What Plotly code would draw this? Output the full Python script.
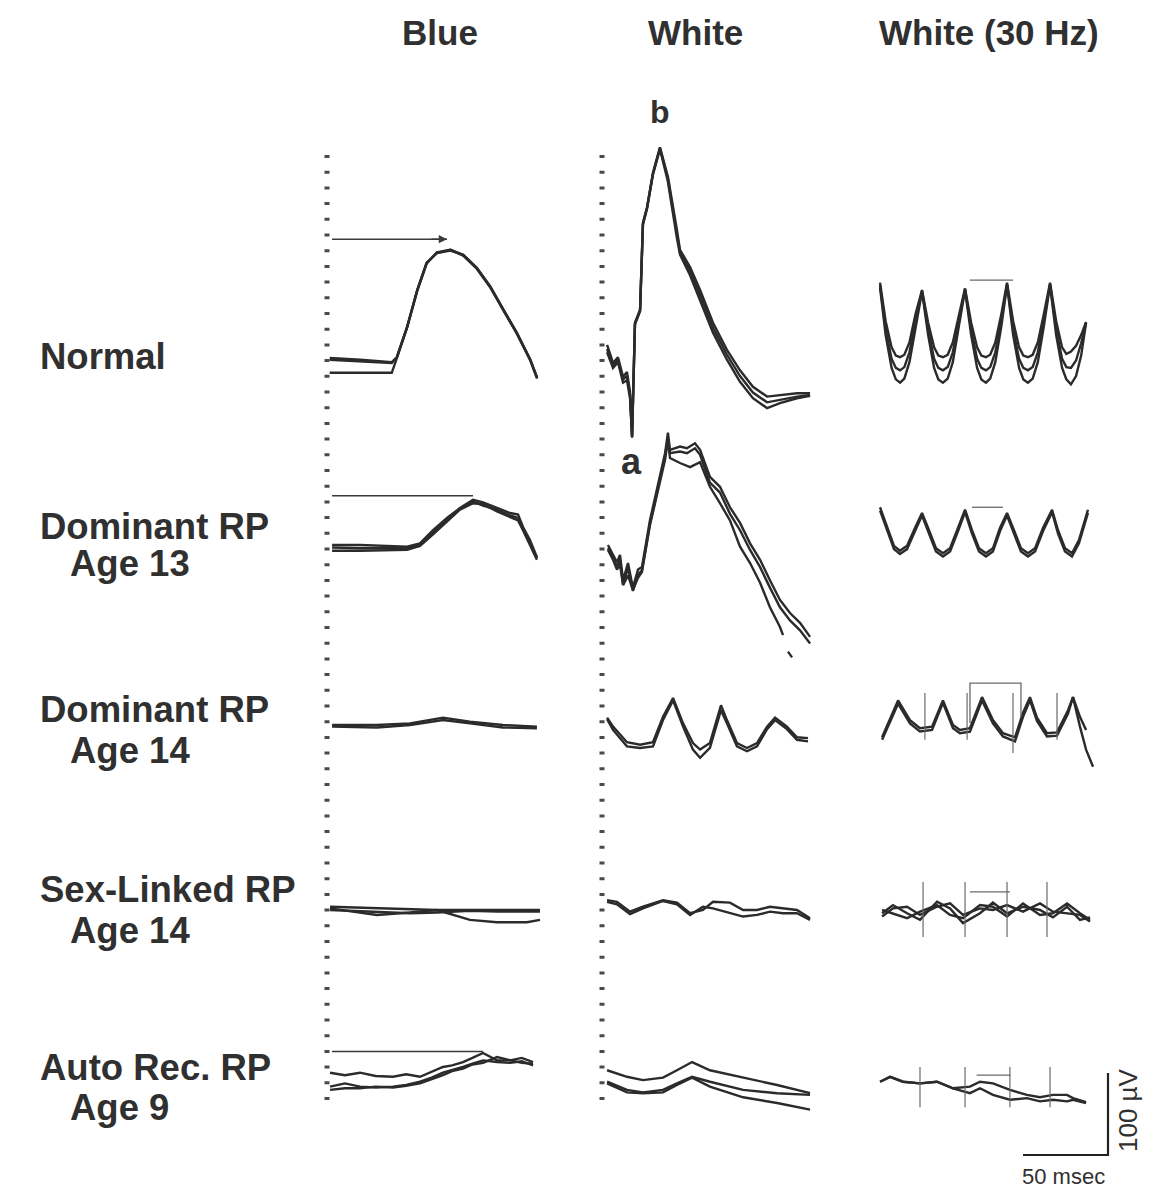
import plotly.graph_objects as go

# ---------------- figure geometry (layout constants, not data) ----------------
W, H = 1172, 1195
KX, KY = 1.7, 0.82            # pixels per msec, pixels per µV (from the scale bar)
COL_X0 = [328, 603, 878]      # pixel of t = 0 for each column
ROW_Y0 = [372, 545, 725, 910, 1085]  # pixel of 0 µV for each row

# ---------------- labels ----------------
COLUMN_TITLES = ["Blue", "White", "White (30 Hz)"]
ROW_TITLES = [["Normal"], ["Dominant RP", "Age 13"], ["Dominant RP", "Age 14"],
              ["Sex-Linked RP", "Age 14"], ["Auto Rec. RP", "Age 9"]]
SCALE_MS = 50
SCALE_UV = 100

# ---------------- data: time (msec) and amplitude (µV) ----------------
# Row 1  Normal
N_BLUE_T = [1, 19, 37.5, 40.5, 46.5, 52.5, 58, 64, 72, 79.5, 87.5, 95.5, 103, 111, 119, 123]
N_BLUE_1 = [17, 15, 12, 18, 55, 100, 133, 145, 149, 143, 127, 104, 76, 48, 15, -7]
N_BLUE_2 = [15, 13, 11, 18, 54, 99, 132, 146, 149, 142, 126, 103, 75, 47, 14, -8]
N_BLUE_3 = [-1, -1, -1, 17, 54, 100, 133, 145, 148, 143, 127, 104, 76, 48, 15, -7]
N_BLUE_PEAK_T = 70
N_BLUE_MARK_UV = 162

N_WHITE_T = [2.4, 5.9, 8.8, 11.8, 14.1, 15.9, 17.1, 18.8, 21.8, 23.5, 25.9, 29.4, 33.5, 38.2,
             43.5, 45.3, 51.2, 57.1, 64.7, 72.9, 80.6, 88.2, 96.5, 104.1, 114.1, 121.8]
N_WHITE_1 = [33, 11, 18, -6, 0, -24, -80, 60, 76, 182, 201, 243, 274, 238,
             173, 149, 128, 100, 60, 27, 2, -18, -30, -28, -26, -26]
N_WHITE_2 = [24, 5, 12, -13, -10, -32, -78, 58, 74, 180, 199, 241, 272, 232,
             163, 143, 118, 88, 48, 15, -12, -32, -44, -38, -32, -29]
N_WHITE_3 = [28, 8, 15, -9, -5, -28, -79, 59, 75, 181, 200, 242, 273, 235,
             168, 146, 123, 94, 54, 21, -5, -25, -37, -34, -30, -28]

N_FLICK_T = [1.2, 4.5, 8, 10.5, 13, 15.5, 18.5, 22, 25.9, 29.5, 33, 35.5, 38.2, 41, 44, 47.5, 51.2,
             54.8, 58.3, 60.8, 63.5, 66, 69, 72.5, 75.9, 79.5, 83, 85.5, 88.2, 91, 94, 97.5, 101.2,
             104.8, 108.3, 110.8, 113.5, 116.5, 119.5, 122.4]
N_FLICK_1 = [109, 62, 30, 20, 18, 21, 36, 70, 100, 60, 30, 20, 18, 21, 36, 70, 102,
             60, 30, 20, 18, 21, 36, 70, 109, 62, 30, 20, 18, 21, 36, 70, 109,
             62, 30, 22, 25, 32, 45, 61]
N_FLICK_2 = [103, 45, 5, -9, -13, -8, 12, 55, 98, 45, 5, -9, -13, -8, 12, 55, 100,
             45, 5, -9, -13, -8, 12, 55, 106, 45, 5, -9, -13, -8, 12, 55, 106,
             45, 5, -9, -15, -5, 20, 60]
N_FLICK_3 = [106, 52, 16, 5, 2, 6, 24, 62, 99, 52, 16, 5, 2, 6, 24, 62, 101,
             52, 16, 5, 2, 6, 24, 62, 107, 52, 16, 5, 2, 6, 24, 62, 107,
             52, 16, 6, 5, 14, 35, 60]
N_FLICK_BRACKET_T = [54, 79.5]
N_FLICK_BRACKET_UV = [112, 112]

# Row 2  Dominant RP, age 13
D13_BLUE_T = [2.4, 18.8, 46.5, 54.1, 61.8, 70, 77.6, 85.3, 91.2, 99.4, 107.1, 111.8, 114.7, 118.8, 122.9]
D13_BLUE_1 = [0, 0, -2, 2, 18, 33, 45, 55, 52, 45, 39, 37, 22, 6, -15]
D13_BLUE_2 = [-7, -7, -6, -1, 13, 29, 43, 51, 50, 41, 34, 30, 18, 0, -18]
D13_BLUE_3 = [-3, -4, -4, 0, 15, 31, 44, 53, 48, 43, 36, 33, 20, 3, -16]
D13_BLUE_PEAK_T = 85.3
D13_BLUE_MARK_UV = 60

D13_WHITE_T = [2.9, 5.9, 8.2, 10, 11.8, 14.7, 17.6, 20.6, 22.9, 27.6, 32.4, 36.5, 38.2, 39.4, 45.3,
               49.4, 54.1, 57.1, 62.9, 68.8, 74.7, 80.6, 86.5, 92.4, 98.2, 104.1, 110, 115.9, 121.8]
D13_WHITE_1 = [0, -12, -21, -12, -43, -22, -52, -30, -27, 30, 76, 112, 137, 116, 120,
               118, 124, 116, 83, 71, 46, 27, 2, -18, -43, -67, -83, -95, -112]
D13_WHITE_2 = [-4, -16, -26, -18, -48, -28, -56, -36, -31, 26, 72, 108, 130, 112, 114,
               112, 118, 110, 76, 64, 38, 18, -6, -27, -52, -76, -92, -104, -120]
D13_WHITE_T3 = [2.9, 5.9, 8.2, 10, 11.8, 14.7, 17.6, 20.6, 22.9, 27.6, 32.4, 36.5, 38.2, 39.4, 45.3,
                51.2, 57.1, 62.9, 68.8, 74.7, 80.6, 86.5, 92.4, 98.2, 104.1, 105.9, None, 108.8, 111.2]
D13_WHITE_3 = [-6, -18, -30, -24, -49, -37, -55, -40, -33, 24, 67, 104, 128, 106, 100,
               95, 101, 71, 51, 30, -2, -22, -46, -76, -100, -110, None, -130, -137]

D13_FLICK_T = [1.2, 5.9, 9.4, 12.9, 17.1, 21.8, 25.9, 30, 34.1, 38.2, 42.4, 47.1, 51.2, 55.3, 59.4,
               63.5, 67.6, 71.8, 75.9, 80, 84.1, 88.2, 92.4, 97.1, 102.4, 105.9, 110, 114.1, 118.2, 123.5]
D13_FLICK_1 = [46, 18, -1, -7, -1, 21, 39, 18, -4, -10, -4, 21, 43, 18, -4,
               -10, -4, 21, 39, 18, -4, -10, -4, 21, 43, 18, -4, -10, 6, 43]
D13_FLICK_2 = [42, 14, -5, -11, -5, 17, 36, 14, -8, -14, -8, 17, 40, 14, -8,
               -14, -8, 17, 36, 14, -8, -14, -8, 17, 40, 14, -8, -14, 2, 39]
D13_FLICK_BRACKET_T = [55.3, 73.5]
D13_FLICK_BRACKET_UV = [46, 46]

# Row 3  Dominant RP, age 14
D14_BLUE_T = [2.4, 28.8, 48.2, 67.6, 83.5, 102.9, 122.9]
D14_BLUE_1 = [0, 0, 2, 9, 4, 0, -2]
D14_BLUE_2 = [-2, -3, 0, 6, 2, -3, -4]

D14_WHITE_T = [2.4, 5.9, 14.1, 21.8, 29.4, 35.3, 41.2, 47.1, 52.9, 57.1, 62.9, 69.4, 72.9,
               78.8, 84.7, 90.6, 96.5, 101.2, 108.2, 114.1, 120.6]
D14_WHITE_1 = [9, -2, -21, -24, -21, 10, 33, 2, -22, -30, -22, 24, 6, -22, -28, -22, -2, 9, -2, -15, -16]
D14_WHITE_2 = [7, -6, -26, -28, -26, 6, 30, -2, -30, -40, -28, 18, 2, -26, -32, -26, -5, 6, -5, -18, -20]

D14_FLICK_T = [2.4, 5.9, 11.8, 18.8, 24.7, 31.8, 38.2, 44.1, 48.2, 54.1, 61.2, 67.6, 73.5, 80.6,
               85.3, 89.4, 93.5, 99.4, 105.3, 111.8, 114.7, 118.8, 122.4]
D14_FLICK_1 = [-15, 2, 30, 6, -4, -2, 30, 0, -6, -4, 34, 6, -10, -15, 15, 34, 9, -10, -9, 18, 34, 10, -6]
D14_FLICK_T2 = [2.4, 5.9, 11.8, 18.8, 24.7, 31.8, 38.2, 44.1, 48.2, 54.1, 61.2, 67.6, 73.5, 80.6,
                85.3, 89.4, 93.5, 99.4, 105.3, 111.8, 114.7, 118.8, 122.4, 126.5]
D14_FLICK_2 = [-18, -2, 26, 2, -8, -6, 27, -4, -10, -8, 30, 2, -14, -20, 10, 30, 5, -14, -13, 14, 34, -2, -30, -51]
D14_STIM_T = [27.6, 52.4, 79.4, 105.3]
D14_STIM_TOP = [39, 39, 39, 39]
D14_STIM_BOT = [-18, -18, -34, -18]
D14_FLICK_BRACKET_T = [54.1, 54.1, 84.1, 84.1]
D14_FLICK_BRACKET_UV = [2, 51, 51, 10]

# Row 4  Sex-linked RP, age 14
SL_BLUE_T = [1.2, 28.8, 48.2, 64.1, 83.5, 99.4, 117, 124.7]
SL_BLUE_1 = [4, 2, 1, 0, 0, 0, 0, 0]
SL_BLUE_2 = [2, -6, -3, 0, -12, -15, -15, -12]
SL_BLUE_3 = [0, -2, -4, -3, -1, -2, -2, -2]

SL_WHITE_T = [2.4, 8.2, 15.9, 23.5, 35.3, 43.5, 51.2, 58.8, 64.7, 74.7, 82.4, 90.6, 98.2, 105.9, 114.1, 121.8]
SL_WHITE_1 = [12, 10, -2, 4, 12, 9, -4, 0, 10, 9, 0, 0, 4, 2, 0, -10]
SL_WHITE_2 = [10, 7, -5, 2, 11, 7, -6, 4, 2, -4, -8, -6, -2, -4, -4, -12]

SL_FLICK_T = [2.4, 8.8, 17.1, 24.7, 34.7, 42.4, 50, 60, 67.6, 75.9, 85.3, 95.3, 102.9, 111.2, 118.8, 124.7]
SL_FLICK_1 = [-4, 6, -4, -12, 10, 2, -16, -4, 9, -4, 4, 0, -9, 4, -12, -9]
SL_FLICK_2 = [-8, 2, 4, -6, 4, 8, -6, 2, 0, 6, -2, 8, -2, -4, -6, -14]
SL_FLICK_3 = [0, -4, -10, -2, 6, -6, -10, 6, 4, -8, 8, -6, -4, 8, -4, -12]
SL_STIM_T = [26.5, 51.2, 75.9, 99.4]
SL_STIM_TOP = [34, 34, 34, 34]
SL_STIM_BOT = [-33, -33, -33, -33]
SL_FLICK_BRACKET_T = [54.1, 77.6]
SL_FLICK_BRACKET_UV = [22, 22]

# Row 5  Autosomal recessive RP, age 9
AR_BLUE_T = [1.2, 10, 18.8, 28, 38.2, 46, 54.1, 61, 67.6, 73, 79.4, 85, 91.2, 99.4, 107.1, 114, 120.6]
AR_BLUE_1 = [15, 12, 15, 11, 10, 13, 10, 16, 22, 24, 28, 33, 39, 30, 30, 33, 28]
AR_BLUE_2 = [-2, 2, -2, -3, -2, 0, 4, 9, 15, 18, 22, 26, 30, 28, 27, 29, 24]
AR_BLUE_3 = [-6, -4, -4, -2, -3, -1, 2, 7, 12, 17, 20, 25, 27, 34, 30, 27, 26]
AR_BLUE_PEAK_T = 91.2
AR_BLUE_MARK_UV = 41

AR_WHITE_T = [2.4, 14.1, 23.5, 35.3, 43.5, 52.4, 62.9, 82.4, 102.4, 121.8]
AR_WHITE_1 = [18, 10, 6, 9, 18, 28, 18, 9, 0, -10]
AR_WHITE_2 = [4, -6, -9, -6, 2, 10, 4, -6, -10, -12]
AR_WHITE_3 = [2, -9, -10, -9, 0, 9, -2, -15, -22, -30]

AR_FLICK_T = [1.2, 7.1, 14.7, 24.7, 34.7, 44.1, 54.1, 60, 67.6, 77.6, 87.6, 95.3, 102.9, 111.2, 114.7, 122.4]
AR_FLICK_1 = [4, 10, 4, 2, 4, -4, -2, 4, 2, -6, -12, -15, -12, -12, -16, -21]
AR_FLICK_2 = [4, 10, 4, 2, 4, -4, -10, -4, -12, -18, -16, -20, -18, -20, -18, -22]
AR_STIM_T = [24.7, 51.2, 77.6, 101.2]
AR_STIM_TOP = [22, 22, 22, 22]
AR_STIM_BOT = [-27, -27, -27, -27]
AR_FLICK_BRACKET_T = [58, 78]
AR_FLICK_BRACKET_UV = [12, 12]

# ---------------- assemble panels ----------------
PANELS = {
    (0, 0): [(N_BLUE_T, N_BLUE_1), (N_BLUE_T, N_BLUE_2), (N_BLUE_T, N_BLUE_3)],
    (0, 1): [(N_WHITE_T, N_WHITE_1), (N_WHITE_T, N_WHITE_2), (N_WHITE_T, N_WHITE_3)],
    (0, 2): [(N_FLICK_T, N_FLICK_1), (N_FLICK_T, N_FLICK_2), (N_FLICK_T, N_FLICK_3)],
    (1, 0): [(D13_BLUE_T, D13_BLUE_1), (D13_BLUE_T, D13_BLUE_2), (D13_BLUE_T, D13_BLUE_3)],
    (1, 1): [(D13_WHITE_T, D13_WHITE_1), (D13_WHITE_T, D13_WHITE_2), (D13_WHITE_T3, D13_WHITE_3)],
    (1, 2): [(D13_FLICK_T, D13_FLICK_1), (D13_FLICK_T, D13_FLICK_2)],
    (2, 0): [(D14_BLUE_T, D14_BLUE_1), (D14_BLUE_T, D14_BLUE_2)],
    (2, 1): [(D14_WHITE_T, D14_WHITE_1), (D14_WHITE_T, D14_WHITE_2)],
    (2, 2): [(D14_FLICK_T, D14_FLICK_1), (D14_FLICK_T2, D14_FLICK_2)],
    (3, 0): [(SL_BLUE_T, SL_BLUE_1), (SL_BLUE_T, SL_BLUE_2), (SL_BLUE_T, SL_BLUE_3)],
    (3, 1): [(SL_WHITE_T, SL_WHITE_1), (SL_WHITE_T, SL_WHITE_2)],
    (3, 2): [(SL_FLICK_T, SL_FLICK_1), (SL_FLICK_T, SL_FLICK_2), (SL_FLICK_T, SL_FLICK_3)],
    (4, 0): [(AR_BLUE_T, AR_BLUE_1), (AR_BLUE_T, AR_BLUE_2), (AR_BLUE_T, AR_BLUE_3)],
    (4, 1): [(AR_WHITE_T, AR_WHITE_1), (AR_WHITE_T, AR_WHITE_2), (AR_WHITE_T, AR_WHITE_3)],
    (4, 2): [(AR_FLICK_T, AR_FLICK_1), (AR_FLICK_T, AR_FLICK_2)],
}
PEAK_MARKS = {0: (N_BLUE_PEAK_T, N_BLUE_MARK_UV), 1: (D13_BLUE_PEAK_T, D13_BLUE_MARK_UV),
              4: (AR_BLUE_PEAK_T, AR_BLUE_MARK_UV)}
STIMULI = {2: (D14_STIM_T, D14_STIM_TOP, D14_STIM_BOT), 3: (SL_STIM_T, SL_STIM_TOP, SL_STIM_BOT),
           4: (AR_STIM_T, AR_STIM_TOP, AR_STIM_BOT)}
BRACKETS = {0: (N_FLICK_BRACKET_T, N_FLICK_BRACKET_UV), 1: (D13_FLICK_BRACKET_T, D13_FLICK_BRACKET_UV),
            2: (D14_FLICK_BRACKET_T, D14_FLICK_BRACKET_UV), 3: (SL_FLICK_BRACKET_T, SL_FLICK_BRACKET_UV),
            4: (AR_FLICK_BRACKET_T, AR_FLICK_BRACKET_UV)}

INK = "#2b2b2b"
LIGHT = "#6a6a6a"
FONT = "Liberation Sans, Arial, Helvetica, sans-serif"

fig = go.Figure()
layout = dict(width=W, height=H, margin=dict(l=0, r=0, t=0, b=0),
              paper_bgcolor="white", plot_bgcolor="rgba(0,0,0,0)", showlegend=False)


def add_axes(idx, left, right, top, bottom, x0, y0):
    layout[f"xaxis{idx}"] = dict(domain=[left / W, right / W],
                                 range=[(left - x0) / KX, (right - x0) / KX],
                                 visible=False, fixedrange=True, anchor=f"y{idx}")
    layout[f"yaxis{idx}"] = dict(domain=[1 - bottom / H, 1 - top / H],
                                 range=[(y0 - bottom) / KY, (y0 - top) / KY],
                                 visible=False, fixedrange=True, anchor=f"x{idx}")


def line(idx, x, y, color=INK, width=2.0):
    fig.add_trace(go.Scatter(x=x, y=y, mode="lines", xaxis=f"x{idx}", yaxis=f"y{idx}",
                             line=dict(color=color, width=width), connectgaps=False,
                             hoverinfo="skip"))


for r in range(5):
    for c in range(3):
        idx = r * 3 + c + 1
        x0, y0 = COL_X0[c], ROW_Y0[r]
        add_axes(idx, x0 - 14, x0 + 262, max(0, y0 - 250), min(H, y0 + 140), x0, y0)
        for t, v in PANELS[(r, c)]:
            line(idx, t, v, INK, 2.4)
        if c == 0 and r in PEAK_MARKS:
            pt, lv = PEAK_MARKS[r]
            line(idx, [2.4, pt], [lv, lv], "#3a3a3a", 1.5)
        if c == 2 and r in STIMULI:
            st, top, bot = STIMULI[r]
            xs, ys = [], []
            for s, a, b in zip(st, top, bot):
                xs += [s, s, None]
                ys += [b, a, None]
            line(idx, xs, ys, LIGHT, 1.2)
        if c == 2 and r in BRACKETS:
            bt, bv = BRACKETS[r]
            line(idx, bt, bv, LIGHT, 1.3)

# arrowhead on the Normal blue implicit-time marker
annotations = [dict(x=N_BLUE_PEAK_T, y=N_BLUE_MARK_UV, ax=N_BLUE_PEAK_T - 10, ay=N_BLUE_MARK_UV,
                    xref="x", yref="y", axref="x", ayref="y", text="", showarrow=True,
                    arrowhead=2, arrowsize=1.1, arrowwidth=1.5, arrowcolor="#3a3a3a")]

# scale bar (50 msec x 100 µV)
add_axes(16, 1013, 1118, 1063, 1165, 1023, 1155)
line(16, [0, SCALE_MS, SCALE_MS], [0, 0, SCALE_UV], "#222222", 2.2)

# dotted time-zero markers for the Blue and White columns
shapes = []
for c in (0, 1):
    xp = COL_X0[c] - 1
    shapes.append(dict(type="line", xref="paper", yref="paper", x0=xp / W, x1=xp / W,
                       y0=1 - 155 / H, y1=1 - 1110 / H,
                       line=dict(color="#4a4a4a", width=5, dash="3px,12.7px")))

# texts
TITLE_X = [440, 695, 989]
for name, xc in zip(COLUMN_TITLES, TITLE_X):
    annotations.append(dict(x=xc / W, y=1 - 33 / H, xref="paper", yref="paper", text=f"<b>{name}</b>",
                            showarrow=False, xanchor="center", yanchor="middle",
                            font=dict(family=FONT, size=35, color="#303030")))

ROW_TEXT_Y = [[357], [526, 564], [709, 750], [889, 930], [1067, 1107]]
for lines_, ys in zip(ROW_TITLES, ROW_TEXT_Y):
    for k, (txt, yc) in enumerate(zip(lines_, ys)):
        annotations.append(dict(x=(38 if k == 0 else 68) / W, y=1 - yc / H, xref="paper", yref="paper",
                                text=f"<b>{txt}</b>", showarrow=False, xanchor="left", yanchor="middle",
                                font=dict(family=FONT, size=36.5, color="#303030")))

annotations.append(dict(x=660 / W, y=1 - 112 / H, xref="paper", yref="paper", text="<b>b</b>",
                        showarrow=False, xanchor="center", yanchor="middle",
                        font=dict(family=FONT, size=32, color="#303030")))
annotations.append(dict(x=631 / W, y=1 - 461 / H, xref="paper", yref="paper", text="<b>a</b>",
                        showarrow=False, xanchor="center", yanchor="middle",
                        font=dict(family=FONT, size=36, color="#303030")))
annotations.append(dict(x=1063 / W, y=1 - 1176 / H, xref="paper", yref="paper", text="50 msec",
                        showarrow=False, xanchor="center", yanchor="middle",
                        font=dict(family=FONT, size=22, color="#303030")))
annotations.append(dict(x=1128 / W, y=1 - 1110 / H, xref="paper", yref="paper", text="100 µV",
                        showarrow=False, xanchor="center", yanchor="middle", textangle=-90,
                        font=dict(family=FONT, size=26, color="#303030")))

layout["annotations"] = annotations
layout["shapes"] = shapes
fig.update_layout(**layout)
fig.write_html("out.html")
